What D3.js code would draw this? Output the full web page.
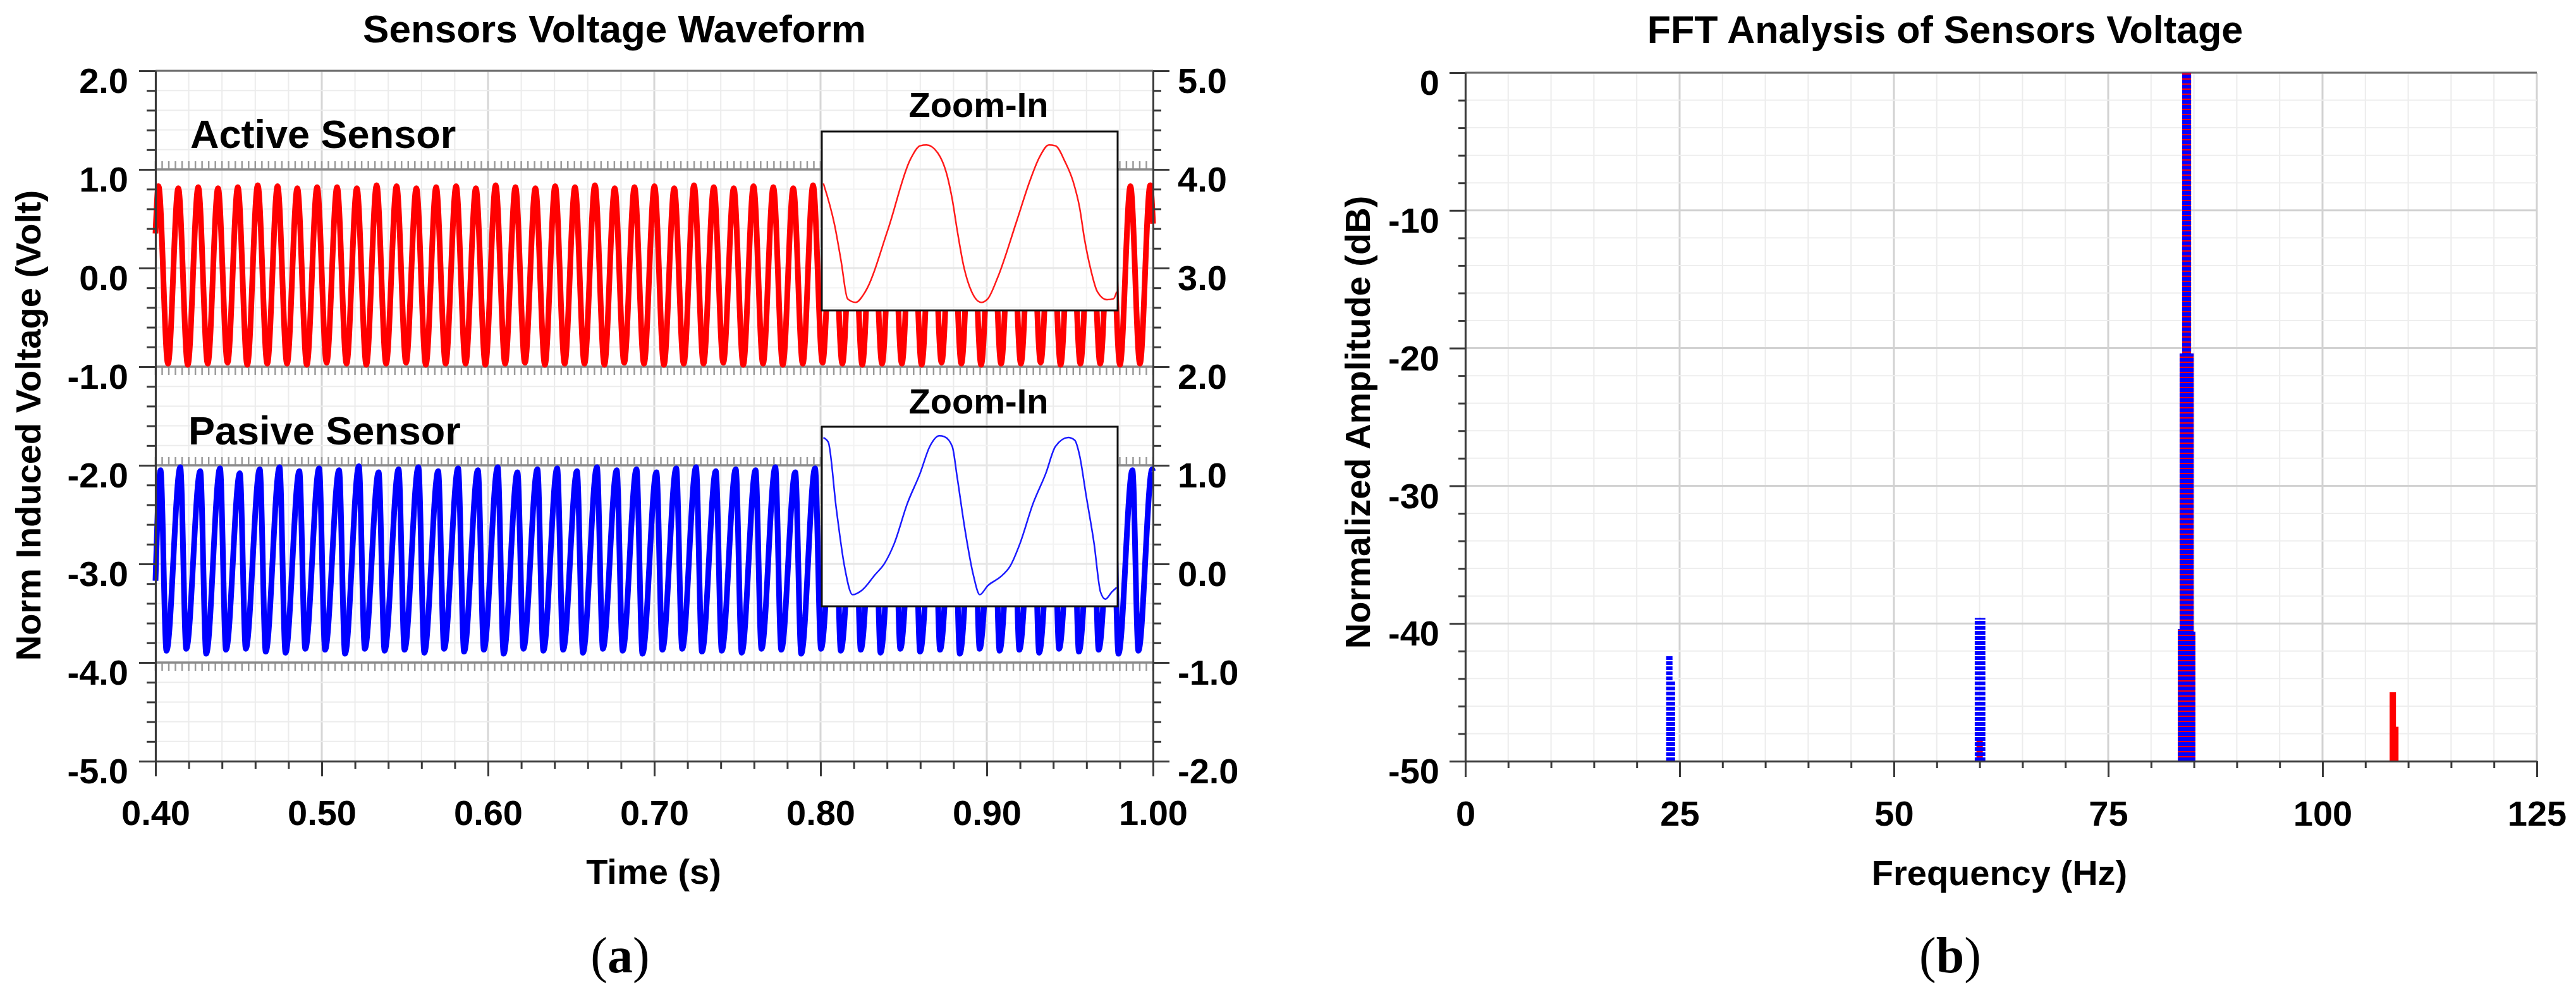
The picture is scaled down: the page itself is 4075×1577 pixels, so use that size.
<!DOCTYPE html>
<html>
<head>
<meta charset="utf-8">
<script src="https://cdn.jsdelivr.net/npm/d3@7"></script>
<style>
  html, body { margin: 0; padding: 0; background: #fff; }
  svg { display: block; }
  text { font-family: "Liberation Sans", Arial, sans-serif; font-weight: bold; fill: #000; }
</style>
</head>
<body>
<div id="chart"></div>
<script>
// ---- (a) waveform: extremes (time in s, volt) ----
const activePeakTime = [0.4018, 0.4137, 0.4257, 0.4376, 0.4495, 0.4615, 0.4734, 0.4853, 0.4972, 0.5092,
  0.5211, 0.5330, 0.5450, 0.5569, 0.5688, 0.5808, 0.5927, 0.6046, 0.6165, 0.6285,
  0.6404, 0.6523, 0.6643, 0.6762, 0.6881, 0.7001, 0.7120, 0.7239, 0.7358, 0.7478,
  0.7597, 0.7716, 0.7836, 0.7955, 0.8074, 0.8194, 0.8313, 0.8432, 0.8551, 0.8671,
  0.8790, 0.8909, 0.9029, 0.9148, 0.9267, 0.9387, 0.9506, 0.9625, 0.9744, 0.9864, 0.9983];
const activePeakVolt = [0.83, 0.81, 0.82, 0.81, 0.82, 0.84, 0.83, 0.81, 0.82, 0.82,
  0.81, 0.84, 0.83, 0.81, 0.82, 0.83, 0.81, 0.84, 0.82, 0.81,
  0.83, 0.82, 0.84, 0.81, 0.82, 0.83, 0.81, 0.84, 0.82, 0.81,
  0.83, 0.82, 0.81, 0.84, 0.82, 0.83, 0.81, 0.82, 0.84, 0.81,
  0.83, 0.82, 0.81, 0.84, 0.82, 0.83, 0.81, 0.82, 0.84, 0.83, 0.84];
const activeTroughTime = [0.4075, 0.4194, 0.4314, 0.4433, 0.4552, 0.4672, 0.4791, 0.4910, 0.5029, 0.5149,
  0.5268, 0.5387, 0.5507, 0.5626, 0.5745, 0.5865, 0.5984, 0.6103, 0.6222, 0.6342,
  0.6461, 0.6580, 0.6700, 0.6819, 0.6938, 0.7058, 0.7177, 0.7296, 0.7415, 0.7535,
  0.7654, 0.7773, 0.7893, 0.8012, 0.8131, 0.8251, 0.8370, 0.8489, 0.8608, 0.8728,
  0.8847, 0.8966, 0.9086, 0.9205, 0.9324, 0.9444, 0.9563, 0.9682, 0.9801, 0.9921];
const activeTroughVolt = [-0.97, -0.98, -0.97, -0.96, -0.98, -0.97, -0.97, -0.98, -0.96, -0.97,
  -0.98, -0.97, -0.96, -0.98, -0.97, -0.97, -0.98, -0.97, -0.96, -0.98,
  -0.97, -0.97, -0.98, -0.96, -0.97, -0.98, -0.97, -0.97, -0.96, -0.98,
  -0.97, -0.98, -0.97, -0.96, -0.97, -0.98, -0.97, -0.97, -0.98, -0.96,
  -0.97, -0.98, -0.97, -0.97, -0.96, -0.98, -0.97, -0.97, -0.98, -0.97];
const activeEndTime = [0.4000, 1.0000];
const activeEndVolt = [0.35, 0.45];

const passivePeakTime = [0.4030, 0.4149, 0.4269, 0.4388, 0.4507, 0.4627, 0.4746, 0.4865, 0.4984, 0.5104,
  0.5223, 0.5342, 0.5462, 0.5581, 0.5700, 0.5820, 0.5939, 0.6058, 0.6177, 0.6297,
  0.6416, 0.6535, 0.6655, 0.6774, 0.6893, 0.7013, 0.7132, 0.7251, 0.7370, 0.7490,
  0.7609, 0.7728, 0.7848, 0.7967, 0.8086, 0.8206, 0.8325, 0.8444, 0.8563, 0.8683,
  0.8802, 0.8921, 0.9041, 0.9160, 0.9279, 0.9399, 0.9518, 0.9637, 0.9756, 0.9876, 0.9995];
const passivePeakVolt = [-2.05, -2.02, -2.06, -2.03, -2.08, -2.04, -2.02, -2.06, -2.03, -2.05,
  -2.01, -2.07, -2.04, -2.02, -2.06, -2.03, -2.05, -2.02, -2.07, -2.04,
  -2.03, -2.06, -2.02, -2.05, -2.04, -2.07, -2.03, -2.02, -2.06, -2.04,
  -2.05, -2.02, -2.07, -2.03, -2.04, -2.06, -2.02, -2.05, -2.03, -2.07,
  -2.04, -2.02, -2.06, -2.03, -2.05, -2.04, -2.02, -2.07, -2.03, -2.05, -2.04];
const passiveTroughTime = [0.4066, 0.4185, 0.4305, 0.4424, 0.4543, 0.4663, 0.4782, 0.4901, 0.5020, 0.5140,
  0.5259, 0.5378, 0.5498, 0.5617, 0.5736, 0.5856, 0.5975, 0.6094, 0.6213, 0.6333,
  0.6452, 0.6571, 0.6691, 0.6810, 0.6929, 0.7049, 0.7168, 0.7287, 0.7406, 0.7526,
  0.7645, 0.7764, 0.7884, 0.8003, 0.8122, 0.8242, 0.8361, 0.8480, 0.8599, 0.8719,
  0.8838, 0.8957, 0.9077, 0.9196, 0.9315, 0.9435, 0.9554, 0.9673, 0.9792, 0.9912];
const passiveTroughVolt = [-3.88, -3.86, -3.91, -3.87, -3.86, -3.89, -3.90, -3.86, -3.87, -3.91,
  -3.86, -3.88, -3.87, -3.90, -3.86, -3.89, -3.87, -3.91, -3.86, -3.88,
  -3.87, -3.90, -3.86, -3.88, -3.91, -3.87, -3.86, -3.89, -3.88, -3.90,
  -3.86, -3.87, -3.91, -3.86, -3.88, -3.87, -3.90, -3.86, -3.89, -3.87,
  -3.91, -3.86, -3.88, -3.87, -3.90, -3.86, -3.89, -3.87, -3.91, -3.88];
const passiveEndTime = [0.4000, 1.0000];
const passiveEndVolt = [-3.17, -2.06];

// stacked sub-panel borders (left-axis volts)
const panelEdges = [1.0, -1.0, -2.0, -4.0];

// zoom-in insets (time in ms, normalised volt)
const activeZoomTime = [0.15, 1.22, 1.83, 2.44, 3.20, 4.12, 6.25, 8.39, 9.30, 9.91, 10.98, 11.90, 12.35, 12.81,
  13.42, 14.18, 15.10, 15.71, 16.62, 18.45, 19.67, 20.59, 21.50, 22.11, 23.03, 23.79, 24.40, 24.86,
  25.47, 26.08, 26.99, 27.60, 27.91];
const activeZoomVolt = [0.42, -0.05, -0.45, -0.87, -0.91, -0.79, -0.10, 0.69, 0.84, 0.85, 0.76, 0.49, 0.24, -0.10,
  -0.50, -0.79, -0.91, -0.87, -0.64, 0.00, 0.44, 0.71, 0.85, 0.84, 0.66, 0.44, 0.15, -0.20,
  -0.55, -0.79, -0.88, -0.87, -0.79];
const passiveZoomTime = [0.15, 0.61, 1.37, 2.14, 2.90, 3.81, 5.03, 5.95, 6.86, 8.08, 9.30, 10.22, 11.13, 11.59,
  12.35, 12.81, 13.57, 14.34, 14.95, 15.71, 16.93, 17.84, 18.76, 19.98, 21.20, 22.11, 23.33, 23.94,
  24.40, 25.01, 25.77, 26.38, 26.84, 27.45, 27.91];
const passiveZoomVolt = [0.88, 0.83, 0.09, -0.55, -0.87, -0.82, -0.65, -0.52, -0.30, 0.14, 0.48, 0.78, 0.90, 0.89,
  0.78, 0.44, -0.16, -0.65, -0.87, -0.77, -0.67, -0.55, -0.30, 0.14, 0.48, 0.78, 0.88, 0.85,
  0.68, 0.24, -0.30, -0.84, -0.92, -0.84, -0.79];

// ---- (b) FFT lines (Hz, dB) ----
const activeFftFreq = [60.0, 83.5, 83.7, 84.0, 84.3, 84.6, 84.8, 108.2, 108.5];
const activeFftDb = [-48.5, -40.4, -20.4, 0, 0, -20.4, -40.6, -45.0, -47.5];
const passiveFftFreq = [23.8, 24.1, 59.8, 60.3, 83.5, 83.7, 84.0, 84.3, 84.6, 84.8];
const passiveFftDb = [-42.3, -44.2, -39.6, -39.6, -40.4, -20.4, 0, 0, -20.4, -40.6];

// tick labels
const timeTicks = [0.40, 0.50, 0.60, 0.70, 0.80, 0.90, 1.00];
const voltTicksLeft = [-5, -4, -3, -2, -1, 0, 1, 2];
const voltTicksRight = [-2, -1, 0, 1, 2, 3, 4, 5];
const freqTicks = [0, 25, 50, 75, 100, 125];
const dbTicks = [0, -10, -20, -30, -40, -50];

// ---------------------------------------------------------------
const svg = d3.select("#chart").append("svg").attr("width", 4075).attr("height", 1577);

const xT = d3.scaleLinear().domain([0.4, 1.0]).range([246, 1824]);
const yV = d3.scaleLinear().domain([-5, 2]).range([1204, 112]);
const yV2 = d3.scaleLinear().domain([-2, 5]).range([1204, 112]);

const xF = d3.scaleLinear().domain([0, 125]).range([2318, 4013]);
const yF = d3.scaleLinear().domain([-50, 0]).range([1204, 115]);

const tMinor = d3.range(40, 101, 2).map(d => d / 100);
const vMinor = d3.range(-25, 11).map(d => d / 5);
const fMinor = d3.range(0, 126, 5);
const dbMinor = d3.range(-50, 1, 2);

const isWhole = (d, k) => Math.abs(d * k - Math.round(d * k)) < 1e-6;

// gridlines for the waveform panel
function waveGrid(g) {
  g.selectAll(".gv").data(tMinor).enter().append("line")
    .attr("x1", d => xT(d)).attr("x2", d => xT(d)).attr("y1", yV(2)).attr("y2", yV(-5))
    .attr("stroke", d => isWhole(d, 10) ? "#d6d6d6" : "#ececec")
    .attr("stroke-width", d => isWhole(d, 10) ? 3 : 2);
  g.selectAll(".gh").data(vMinor).enter().append("line")
    .attr("x1", xT(0.4)).attr("x2", xT(1.0)).attr("y1", d => yV(d)).attr("y2", d => yV(d))
    .attr("stroke", d => isWhole(d, 1) ? "#d6d6d6" : "#ececec")
    .attr("stroke-width", d => isWhole(d, 1) ? 3 : 2);
}
waveGrid(svg.append("g"));

// stacked panel borders with small hatch ticks
const hatchT = d3.range(100, 251).map(d => d * 0.004);
const edgeG = svg.append("g");
panelEdges.forEach((v, i) => {
  const dir = i % 2 === 0 ? -1 : 1;
  edgeG.selectAll(".h" + i).data(hatchT).enter().append("line")
    .attr("x1", d => xT(d)).attr("x2", d => xT(d))
    .attr("y1", yV(v)).attr("y2", yV(v) + dir * 13)
    .attr("stroke", "#9a9a9a").attr("stroke-width", 2.5);
  edgeG.append("line").attr("x1", xT(0.4)).attr("x2", xT(1.0))
    .attr("y1", yV(v)).attr("y2", yV(v)).attr("stroke", "#8c8c8c").attr("stroke-width", 3.5);
});

function extremes(pt, pv, tt, tv, et, ev) {
  const pts = [];
  pt.forEach((t, i) => pts.push({ t: t, v: pv[i] }));
  tt.forEach((t, i) => pts.push({ t: t, v: tv[i] }));
  et.forEach((t, i) => pts.push({ t: t, v: ev[i] }));
  return pts.sort((a, b) => a.t - b.t);
}
const activePts = extremes(activePeakTime, activePeakVolt, activeTroughTime, activeTroughVolt, activeEndTime, activeEndVolt);
const passivePts = extremes(passivePeakTime, passivePeakVolt, passiveTroughTime, passiveTroughVolt, passiveEndTime, passiveEndVolt);

const waveLine = d3.line().x(d => xT(d.t)).y(d => yV(d.v)).curve(d3.curveMonotoneX);
svg.append("path").datum(activePts).attr("d", waveLine)
  .attr("fill", "none").attr("stroke", "#ff0000").attr("stroke-width", 9).attr("stroke-linejoin", "round");
svg.append("path").datum(passivePts).attr("d", waveLine)
  .attr("fill", "none").attr("stroke", "#0000ff").attr("stroke-width", 9).attr("stroke-linejoin", "round");

// insets
const insets = [
  { y0: 208, y1: 491, t: activeZoomTime, v: activeZoomVolt, color: "#ff1a1a", titleY: 185 },
  { y0: 675, y1: 959, t: passiveZoomTime, v: passiveZoomVolt, color: "#1a1aff", titleY: 654 }
];
const defs = svg.append("defs");
insets.forEach((ins, i) => {
  const x0 = 1300, x1 = 1768;
  svg.append("rect").attr("x", x0).attr("y", ins.y0).attr("width", x1 - x0).attr("height", ins.y1 - ins.y0)
    .attr("fill", "#fff");
  defs.append("clipPath").attr("id", "clip" + i).append("rect")
    .attr("x", x0).attr("y", ins.y0).attr("width", x1 - x0).attr("height", ins.y1 - ins.y0);
  const gg = svg.append("g").attr("clip-path", "url(#clip" + i + ")").attr("opacity", 0.6);
  waveGrid(gg);
  const xZ = d3.scaleLinear().domain([0, 28]).range([x0, x1]);
  const yZ = d3.scaleLinear().domain([-1, 1]).range([ins.y1, ins.y0]);
  const pts = ins.t.map((t, k) => ({ t: t, v: ins.v[k] }));
  svg.append("path").datum(pts)
    .attr("d", d3.line().x(d => xZ(d.t)).y(d => yZ(d.v)).curve(d3.curveMonotoneX))
    .attr("fill", "none").attr("stroke", ins.color).attr("stroke-width", 2.5);
  svg.append("rect").attr("x", x0).attr("y", ins.y0).attr("width", x1 - x0).attr("height", ins.y1 - ins.y0)
    .attr("fill", "none").attr("stroke", "#111").attr("stroke-width", 3);
  svg.append("text").attr("x", 1548).attr("y", ins.titleY).attr("text-anchor", "middle")
    .attr("font-size", 56).text("Zoom-In");
});

svg.append("text").attr("x", 301).attr("y", 234).attr("font-size", 63).text("Active Sensor");
svg.append("text").attr("x", 298).attr("y", 703).attr("font-size", 63).text("Pasive Sensor");

// axes helpers
function styleAxis(g) {
  g.attr("font-family", null).attr("font-size", null);
  g.select(".domain").attr("stroke", "#3a3a3a").attr("stroke-width", 3);
  g.selectAll(".tick line").attr("stroke", "#3a3a3a").attr("stroke-width", 3);
  g.selectAll(".tick text").attr("font-size", 56).attr("fill", "#000");
  return g;
}
function minorAxis(axis, g) {
  g.call(axis.tickFormat("").tickSizeOuter(0));
  styleAxis(g);
  g.select(".domain").remove();
}

// top border of waveform panel
svg.append("line").attr("x1", xT(0.4)).attr("x2", xT(1.0)).attr("y1", yV(2)).attr("y2", yV(2))
  .attr("stroke", "#6a6a6a").attr("stroke-width", 3);

minorAxis(d3.axisLeft(yV).tickValues(vMinor.filter(d => !isWhole(d, 1))).tickSize(14),
  svg.append("g").attr("transform", `translate(${xT(0.4)},0)`));
const gyl = svg.append("g").attr("transform", `translate(${xT(0.4)},0)`)
  .call(d3.axisLeft(yV).tickValues(voltTicksLeft).tickSize(26).tickPadding(17).tickSizeOuter(0)
    .tickFormat(d => d.toFixed(1)));
styleAxis(gyl).selectAll(".tick text").attr("dy", "0.62em");

minorAxis(d3.axisRight(yV2).tickValues(vMinor.map(d => d + 3).filter(d => d <= 5 && !isWhole(d, 1))).tickSize(13),
  svg.append("g").attr("transform", `translate(${xT(1.0)},0)`));
const gyr = svg.append("g").attr("transform", `translate(${xT(1.0)},0)`)
  .call(d3.axisRight(yV2).tickValues(voltTicksRight).tickSize(26).tickPadding(13).tickSizeOuter(0)
    .tickFormat(d => d.toFixed(1)));
styleAxis(gyr).selectAll(".tick text").attr("dy", "0.62em");

minorAxis(d3.axisBottom(xT).tickValues(tMinor.filter(d => !isWhole(d, 10))).tickSize(12),
  svg.append("g").attr("transform", `translate(0,${yV(-5)})`));
const gxb = svg.append("g").attr("transform", `translate(0,${yV(-5)})`)
  .call(d3.axisBottom(xT).tickValues(timeTicks).tickSize(24).tickPadding(37).tickSizeOuter(0)
    .tickFormat(d => d.toFixed(2)));
styleAxis(gxb);

svg.append("text").attr("x", 972).attr("y", 67).attr("text-anchor", "middle").attr("font-size", 62)
  .text("Sensors Voltage Waveform");
svg.append("text").attr("x", 1034).attr("y", 1398).attr("text-anchor", "middle").attr("font-size", 56)
  .text("Time (s)");
svg.append("text").attr("transform", "translate(64,673) rotate(-90)").attr("text-anchor", "middle")
  .attr("font-size", 56).text("Norm Induced Voltage (Volt)");

// ---------------- FFT panel ----------------
const fg = svg.append("g");
fg.selectAll(".fv").data(fMinor).enter().append("line")
  .attr("x1", d => xF(d)).attr("x2", d => xF(d)).attr("y1", yF(0)).attr("y2", yF(-50))
  .attr("stroke", d => d % 25 === 0 ? "#d2d2d2" : "#ececec").attr("stroke-width", d => d % 25 === 0 ? 3 : 2);
fg.selectAll(".fh").data(dbMinor).enter().append("line")
  .attr("x1", xF(0)).attr("x2", xF(125)).attr("y1", d => yF(d)).attr("y2", d => yF(d))
  .attr("stroke", d => d % 10 === 0 ? "#d2d2d2" : "#eeeeee").attr("stroke-width", d => d % 10 === 0 ? 3 : 2);
fg.append("line").attr("x1", xF(0)).attr("x2", xF(125)).attr("y1", yF(0)).attr("y2", yF(0))
  .attr("stroke", "#6e6e6e").attr("stroke-width", 3);

const activeStems = activeFftFreq.map((f, i) => ({ f: f, db: activeFftDb[i] }));
const passiveStems = passiveFftFreq.map((f, i) => ({ f: f, db: passiveFftDb[i] }));
fg.selectAll(".sa").data(activeStems).enter().append("line")
  .attr("x1", d => xF(d.f)).attr("x2", d => xF(d.f)).attr("y1", yF(-50)).attr("y2", d => yF(d.db))
  .attr("stroke", "#ff0000").attr("stroke-width", 10);
fg.selectAll(".sp").data(passiveStems).enter().append("line")
  .attr("x1", d => xF(d.f)).attr("x2", d => xF(d.f)).attr("y1", yF(-50)).attr("y2", d => yF(d.db))
  .attr("stroke", "#0000ff").attr("stroke-width", 10).attr("stroke-dasharray", "6,2");

minorAxis(d3.axisLeft(yF).tickValues(dbMinor.filter(d => d % 10 !== 0)).tickSize(11),
  svg.append("g").attr("transform", `translate(${xF(0)},0)`));
const gfl = svg.append("g").attr("transform", `translate(${xF(0)},0)`)
  .call(d3.axisLeft(yF).tickValues(dbTicks).tickSize(25).tickPadding(16).tickSizeOuter(0)
    .tickFormat(d => String(d)));
styleAxis(gfl).selectAll(".tick text").attr("dy", "0.62em");

minorAxis(d3.axisBottom(xF).tickValues(fMinor.filter(d => d % 25 !== 0)).tickSize(11),
  svg.append("g").attr("transform", `translate(0,${yF(-50)})`));
const gfb = svg.append("g").attr("transform", `translate(0,${yF(-50)})`)
  .call(d3.axisBottom(xF).tickValues(freqTicks).tickSize(25).tickPadding(37).tickSizeOuter(0)
    .tickFormat(d => String(d)));
styleAxis(gfb);

svg.append("text").attr("x", 3077).attr("y", 68).attr("text-anchor", "middle").attr("font-size", 61)
  .text("FFT Analysis of Sensors Voltage");
svg.append("text").attr("x", 3163).attr("y", 1400).attr("text-anchor", "middle").attr("font-size", 56)
  .text("Frequency (Hz)");
svg.append("text").attr("transform", "translate(2167,668) rotate(-90)").attr("text-anchor", "middle")
  .attr("font-size", 56).text("Normalized Amplitude (dB)");

// panel captions
[["a", 981], ["b", 3085]].forEach(c => {
  const t = svg.append("text").attr("x", c[1]).attr("y", 1538).attr("text-anchor", "middle")
    .attr("font-size", 80).style("font-family", "'Liberation Serif', 'Times New Roman', serif")
    .style("font-weight", "normal");
  t.append("tspan").text("(");
  t.append("tspan").style("font-weight", "bold").text(c[0]);
  t.append("tspan").text(")");
});
</script>
</body>
</html>
